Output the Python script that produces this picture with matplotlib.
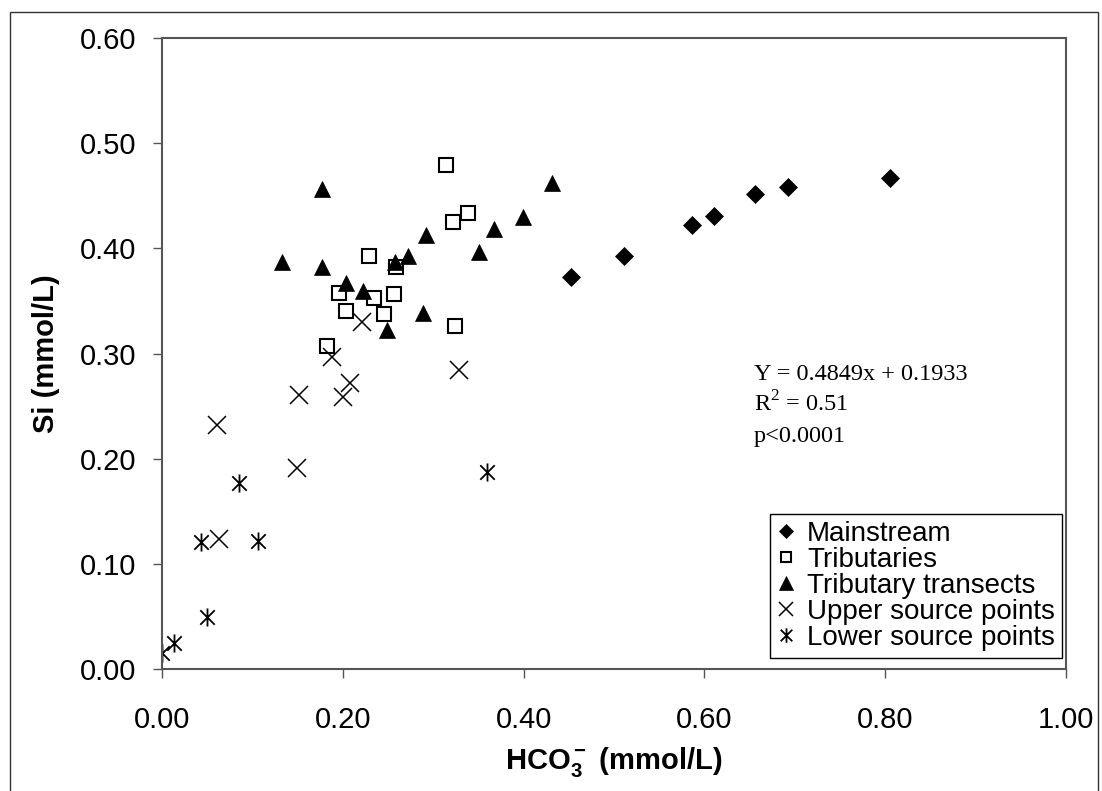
import matplotlib as mpl
mpl.use('Agg')
import numpy as np
import matplotlib.pyplot as plt
from matplotlib.path import Path
from matplotlib.patches import Rectangle

###########################################
## data (HCO3-, Si) in mmol/L
main_x = [0.452, 0.511, 0.586, 0.611, 0.656, 0.692, 0.805]
main_y = [0.373, 0.393, 0.422, 0.431, 0.452, 0.458, 0.467]

trib_x = [0.314, 0.322, 0.338, 0.229, 0.259, 0.196, 0.235, 0.257, 0.203, 0.246, 0.324, 0.183]
trib_y = [0.479, 0.425, 0.434, 0.393, 0.382, 0.358, 0.353, 0.357, 0.340, 0.338, 0.326, 0.307]

trans_x = [0.133, 0.177, 0.177, 0.204, 0.222, 0.249, 0.258, 0.272, 0.289, 0.292, 0.351, 0.367, 0.399, 0.431]
trans_y = [0.387, 0.456, 0.382, 0.367, 0.359, 0.322, 0.387, 0.393, 0.339, 0.413, 0.397, 0.418, 0.430, 0.462]

upper_x = [0.221, 0.188, 0.208, 0.152, 0.200, 0.329, 0.061, 0.149, 0.063]
upper_y = [0.330, 0.297, 0.272, 0.261, 0.259, 0.284, 0.232, 0.191, 0.124]

lower_x = [0.085, 0.043, 0.106, 0.050, 0.013, 0.000, 0.360]
lower_y = [0.177, 0.121, 0.122, 0.049, 0.025, 0.015, 0.187]

labels = ['Mainstream', 'Tributaries', 'Tributary transects',
          'Upper source points', 'Lower source points']

x_ticks = [0.0, 0.2, 0.4, 0.6, 0.8, 1.0]
y_ticks = [0.0, 0.1, 0.2, 0.3, 0.4, 0.5, 0.6]

###########################################
plt.rcParams['font.family'] = ['Liberation Sans', 'DejaVu Sans']
plt.rcParams['mathtext.fontset'] = 'custom'
plt.rcParams['mathtext.rm'] = 'Liberation Serif'
plt.rcParams['mathtext.bf'] = 'Liberation Sans:bold'

# asterisk = X plus vertical bar
d = 0.8
STAR = Path([(0, -1), (0, 1), (-d, -d), (d, d), (-d, d), (d, -d)],
            [Path.MOVETO, Path.LINETO, Path.MOVETO, Path.LINETO, Path.MOVETO, Path.LINETO])

AX_COLOR = '#555555'

fig = plt.figure(figsize=(11.02, 7.91), dpi=100)
ax = fig.add_axes([0.147, 0.1542, 0.8203, 0.7977])

ax.plot(main_x, main_y, ls='none', marker='D', ms=9, color='black', mew=0.5, label=labels[0])
ax.plot(trib_x, trib_y, ls='none', marker='s', ms=9.5, mfc='white', mec='black', mew=1.5, label=labels[1])
ax.plot(trans_x, trans_y, ls='none', marker='^', ms=12, color='black', mew=0.5, label=labels[2])
ax.plot(upper_x, upper_y, ls='none', marker='x', ms=13, color='black', mew=1.1, label=labels[3])
ax.plot(lower_x, lower_y, ls='none', marker=STAR, ms=13, color='black', mew=1.3, label=labels[4])

ax.set_xlim(0, 1.0)
ax.set_ylim(0, 0.6)
ax.set_xticks(x_ticks)
ax.set_yticks(y_ticks)
ax.set_xticklabels(['%.2f' % v for v in x_ticks])
ax.set_yticklabels(['%.2f' % v for v in y_ticks])
ax.tick_params(axis='both', direction='out', length=6.5, width=1, color=AX_COLOR, labelsize=21)
ax.tick_params(axis='x', pad=20)
ax.tick_params(axis='y', pad=12)
for s in ax.spines.values():
  s.set_color(AX_COLOR)
  s.set_linewidth(1.5)

ax.set_xlabel(r'$\mathbf{HCO_3^-}$ (mmol/L)', fontsize=21, fontweight='bold', labelpad=8)
ax.set_ylabel('Si (mmol/L)', fontsize=21, fontweight='bold', labelpad=14)

# regression text
ax.text(0.655, 0.275, 'Y = 0.4849x + 0.1933', family='Liberation Serif', fontsize=17.5, va='baseline')
ax.text(0.655, 0.2453, 'R$^2$ = 0.51', family='Liberation Serif', fontsize=17.5, va='baseline')
ax.text(0.655, 0.216, 'p<0.0001', family='Liberation Serif', fontsize=17.5, va='baseline')

leg = ax.legend(loc='lower right', bbox_to_anchor=(0.9956, 0.0174), borderaxespad=0,
                fontsize=20, markerscale=0.8, handlelength=0.7, handletextpad=0.4,
                borderpad=0.25, labelspacing=0.0, fancybox=False, framealpha=1,
                edgecolor='black')
leg.get_frame().set_linewidth(1.0)

# outer chart frame
fig.patches.append(Rectangle((0.0091, -0.05), 0.9873, 1.0348, transform=fig.transFigure,
                             fill=False, edgecolor='#333333', linewidth=1.0))

plt.savefig('out.png', dpi=100)
plt.close()
